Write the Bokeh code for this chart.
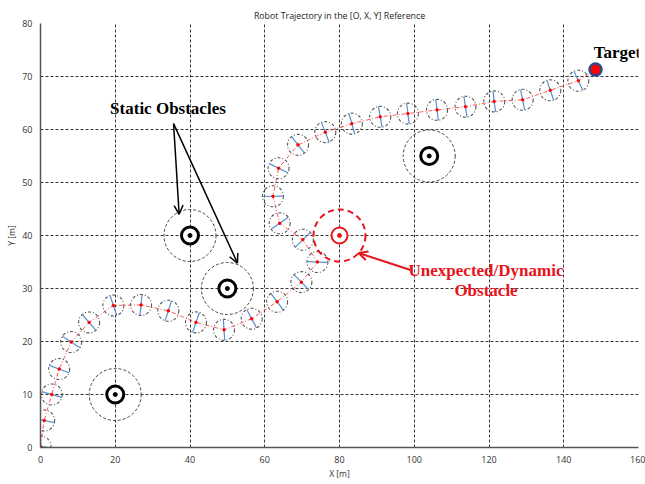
import numpy as np
from bokeh.plotting import figure
from bokeh.models import Range1d, Label, Arrow, OpenHead, ColumnDataSource, FixedTicker
from bokeh.embed import file_html
from bokeh.resources import INLINE

# ---------------- data ----------------
robot_x = [0.0, 1.0, 3.0, 5.0, 8.2, 13.0, 19.5, 26.9, 34.2, 41.6, 49.1, 56.5, 63.3, 69.8,
           74.1, 70.2, 64.0, 62.2, 63.7, 68.9, 76.2, 83.3, 90.9, 98.3, 106.1, 113.7,
           121.4, 129.0, 136.4, 143.9]
robot_y = [0.2, 5.1, 10.0, 14.8, 19.9, 23.6, 26.8, 26.9, 25.8, 23.6, 22.2, 24.3, 27.5, 31.2,
           35.0, 39.2, 42.3, 47.4, 52.7, 57.1, 59.5, 61.1, 62.4, 63.0, 63.7, 64.3,
           65.3, 65.6, 67.4, 69.2]
target_x = [148.5]
target_y = [71.3]
static_obs_x = [20, 40, 50, 104]
static_obs_y = [10, 40, 30, 55]
dynamic_obs_x = [80]
dynamic_obs_y = [40]
x_ticks = [0, 20, 40, 60, 80, 100, 120, 140, 160]
y_ticks = [0, 10, 20, 30, 40, 50, 60, 70, 80]

# ---------------- figure ----------------
W, H = 645, 484
ML, MR, MT, MB = 40, 7, 23, 37
p = figure(width=W, height=H, output_backend="svg", toolbar_location=None,
           x_range=Range1d(0, 160), y_range=Range1d(0, 80),
           min_border_left=ML, min_border_right=MR, min_border_top=MT, min_border_bottom=MB,
           title="Robot Trajectory in the [O, X, Y] Reference")
p.title.align = "center"
p.title.text_font = "Open Sans"
p.title.text_font_size = "8.8px"
p.title.text_font_style = "normal"
p.title.text_color = "#222222"
p.title.standoff = 4
p.outline_line_color = None
p.background_fill_color = "white"
p.border_fill_color = "white"

for ax in (p.xaxis[0], p.yaxis[0]):
    ax.axis_line_color = "#555555"
    ax.axis_line_width = 1.5
    ax.major_tick_line_color = None
    ax.minor_tick_line_color = None
    ax.major_label_text_font = "Open Sans"
    ax.major_label_text_font_size = "9px"
    ax.major_label_text_color = "#333333"
    ax.axis_label_text_font = "Open Sans"
    ax.axis_label_text_font_size = "8.5px"
    ax.axis_label_text_font_style = "normal"
    ax.axis_label_text_color = "#333333"
    ax.major_label_standoff = 2
    ax.axis_label_standoff = 2
p.xaxis.ticker = FixedTicker(ticks=x_ticks)
p.yaxis.ticker = FixedTicker(ticks=y_ticks)
p.xaxis.axis_label = "X [m]"
p.yaxis.axis_label = "Y [m]"

for g in (p.xgrid[0], p.ygrid[0]):
    g.grid_line_color = "#222222"
    g.grid_line_dash = "3 2"
    g.grid_line_width = 1
    g.grid_line_alpha = 0.9

# heading angles (screen space) computed from neighbouring positions
fw = W - ML - MR
fh = H - MT - MB
sx = fw / 160.0
sy = fh / 80.0
rx = np.array(robot_x)
ry = np.array(robot_y)
px = np.concatenate([rx, target_x]) * sx
py = np.concatenate([ry, target_y]) * sy
dx = np.gradient(px)[:len(rx)]
dy = np.gradient(py)[:len(rx)]
heading = np.arctan2(dy, dx)
perp = heading + np.pi / 2

# trajectory line (red dash-dot)
traj_x = list(robot_x) + target_x
traj_y = list(robot_y) + target_y
p.line(traj_x, traj_y, line_color="#ff2020", line_dash="4 2 1 2", line_width=1, line_alpha=0.75)

# robot footprints
src = ColumnDataSource(dict(x=robot_x, y=robot_y, a=perp))
p.scatter("x", "y", source=src, marker="circle", size=21, fill_color=None,
          line_color="#555555", line_dash="3 2 1 2", line_width=1.1)
p.scatter("x", "y", source=src, marker="dash", angle="a", size=21,
          line_color="#5a8fcc", line_width=1.2)
p.scatter("x", "y", source=src, marker="circle", size=2.5, fill_color="red",
          line_color="red")

# static obstacles
p.scatter(static_obs_x, static_obs_y, marker="circle", size=52, fill_color=None,
          line_color="#444444", line_dash="3 2", line_width=1)
p.scatter(static_obs_x, static_obs_y, marker="circle", size=17, fill_color="white",
          line_color="black", line_width=3)
p.scatter(static_obs_x, static_obs_y, marker="circle", size=4, fill_color="black",
          line_color="black")

# dynamic obstacle
p.scatter(dynamic_obs_x, dynamic_obs_y, marker="circle", size=52, fill_color=None,
          line_color="#e8141c", line_dash="6 4", line_width=2)
p.scatter(dynamic_obs_x, dynamic_obs_y, marker="circle", size=16, fill_color="white",
          line_color="#e8141c", line_width=2)
p.scatter(dynamic_obs_x, dynamic_obs_y, marker="circle", size=4, fill_color="#e8141c",
          line_color="#e8141c")

# target
p.scatter(target_x, target_y, marker="circle", size=12, fill_color="red",
          line_color="#2a4a8a", line_width=2.5)

# annotations
serif = "Liberation Serif"
fs = "17px"
p.add_layout(Label(x=34.1, y=64.0, text="Static Obstacles", text_font=serif,
                   text_font_style="bold", text_font_size=fs, text_align="center",
                   text_baseline="middle", text_color="black"))
p.add_layout(Label(x=148.0, y=74.5, text="Target", text_font=serif,
                   text_font_style="bold", text_font_size=fs, text_align="left",
                   text_baseline="middle", text_color="black"))
p.add_layout(Label(x=119.2, y=33.4, text="Unexpected/Dynamic", text_font=serif,
                   text_font_style="bold", text_font_size=fs, text_align="center",
                   text_baseline="middle", text_color="#e8141c"))
p.add_layout(Label(x=119.2, y=29.6, text="Obstacle", text_font=serif,
                   text_font_style="bold", text_font_size=fs, text_align="center",
                   text_baseline="middle", text_color="#e8141c"))

p.add_layout(Arrow(x_start=35.6, y_start=61.1, x_end=37.1, y_end=44.0,
                   line_color="black", line_width=1.5,
                   end=OpenHead(size=9, line_color="black", line_width=1.5)))
p.add_layout(Arrow(x_start=35.6, y_start=61.1, x_end=52.7, y_end=34.8,
                   line_color="black", line_width=1.5,
                   end=OpenHead(size=9, line_color="black", line_width=1.5)))
p.add_layout(Arrow(x_start=99.0, y_start=33.5, x_end=85.1, y_end=36.7,
                   line_color="#e8141c", line_width=2,
                   end=OpenHead(size=9, line_color="#e8141c", line_width=2)))

open("out.html", "w").write(file_html(p, INLINE))
